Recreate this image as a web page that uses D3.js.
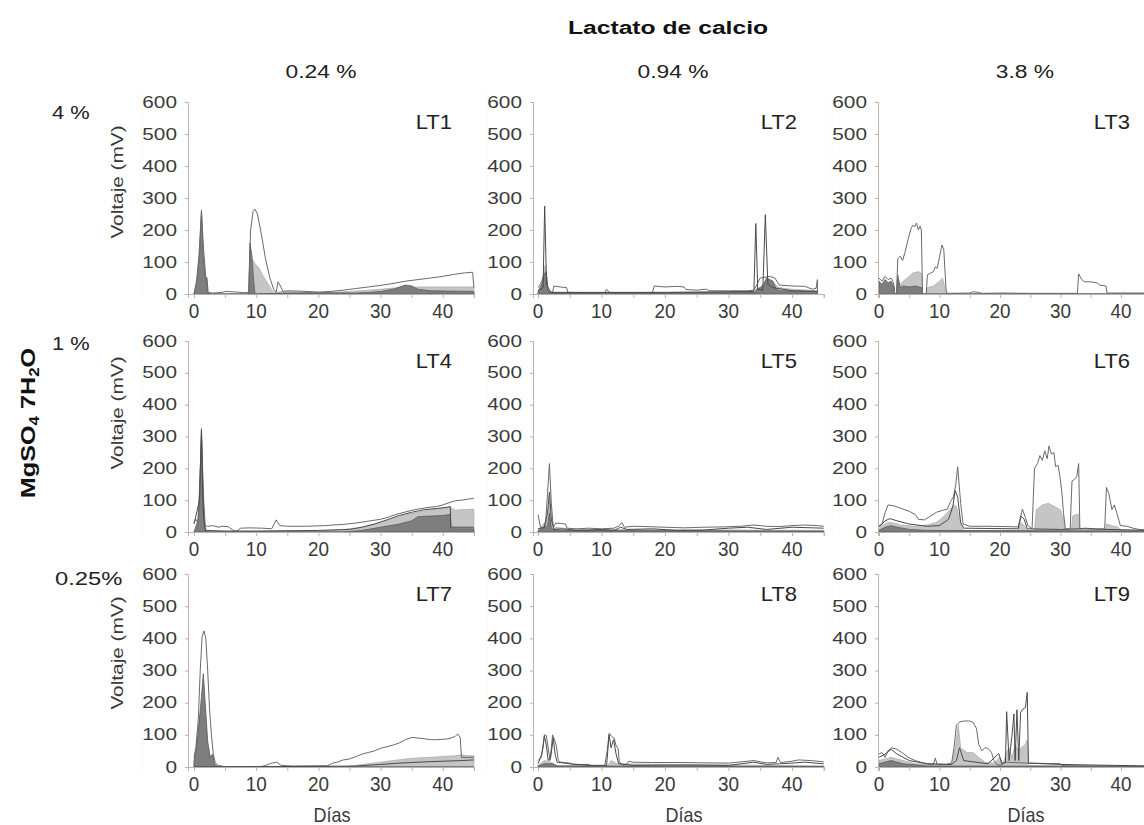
<!DOCTYPE html>
<html>
<head>
<meta charset="utf-8">
<script src="https://cdn.jsdelivr.net/npm/d3@7/dist/d3.min.js"></script>
<style>
  html, body { margin: 0; padding: 0; background: #fff; }
  svg { display: block; }
  text { font-family: "Liberation Sans", Arial, sans-serif; fill: #333; }
</style>
</head>
<body>
<svg id="chart" width="1144" height="825"></svg>
<script>
// ---- Data: voltage (mV) vs. day, one set of traces per cell LT1..LT9 ----
const panelNames = ["LT1", "LT2", "LT3", "LT4", "LT5", "LT6", "LT7", "LT8", "LT9"];
const calciumLevels = ["0.24 %", "0.94 %", "3.8 %"];
const magnesiumLevels = ["4 %", "1 %", "0.25%"];
const yTicks = [0, 100, 200, 300, 400, 500, 600];
const xTicksMajor = [0, 10, 20, 30, 40];
const xTicksMinor = [0, 5, 10, 15, 20, 25, 30, 35, 40, 45];

// LT1
const lt1Outer = [[0,0],[0.4,40],[0.8,120],[1.2,262],[1.5,150],[1.9,50],[2.2,5],[3,3],[4.5,5],[5,8],[7,6],[8,4],[8.8,5],[9.1,200],[9.5,258],[9.8,265],[10.2,250],[10.8,190],[11.5,110],[12.2,50],[12.8,15],[13.2,5],[13.5,38],[13.9,25],[14.3,8],[15,10],[17,9],[20,6],[22,8],[24,12],[26,17],[28,22],[30,27],[32,33],[34,40],[36,45],[38,50],[40,55],[42,62],[43.5,66],[44.8,68],[45,20]];
const lt1Light = [[0,0],[8.8,0],[9.0,150],[9.3,110],[9.8,95],[10.5,80],[11,60],[11.8,35],[12.5,12],[13,3],[14,8],[18,5],[22,5],[25,8],[28,12],[30,15],[33,20],[36,22],[40,22],[43,22],[45,22]];
const lt1Dark = [[0,0],[0.5,40],[0.9,130],[1.2,258],[1.5,120],[1.8,55],[2.1,50],[2.3,0],[8.8,0],[9.0,160],[9.3,120],[9.6,40],[9.8,0],[15,3],[20,4],[26,3],[28,5],[30,8],[32,15],[34,28],[35,25],[36,15],[38,10],[45,8]];
const lt1Line = [];

// LT2
const lt2Outer = [[0,20],[0.3,28],[0.6,40],[0.9,60],[1.3,70],[1.6,8],[2.3,5],[2.5,25],[3.5,22],[4.5,20],[4.7,5],[8,4],[10.5,4],[10.8,15],[11.2,5],[15,3],[18,3],[18.3,25],[20,22],[22,24],[23,22],[23.3,14],[25,12],[26.5,15],[27,10],[30,10],[33,10],[34,12],[35,50],[36.5,55],[37.3,50],[38,28],[40,25],[42,24],[43.2,15],[43.8,18],[44,45],[44,5]];
const lt2Light = [[0,10],[0.8,40],[1.1,90],[1.5,20],[2,5],[34,5],[35,20],[36,30],[37,35],[38,20],[40,15],[44,10]];
const lt2Dark = [[0,5],[0.6,30],[0.9,60],[1.1,65],[1.3,70],[1.5,10],[2,3],[10,3],[20,4],[30,5],[34.2,5],[34.4,15],[35,20],[35.5,30],[36,50],[36.5,45],[37,40],[37.5,15],[38,10],[44,8]];
const lt2Line = [[0,10],[0.8,20],[1.05,275],[1.35,30],[2,5],[20,5],[34,8],[34.3,220],[34.6,15],[35.4,12],[35.8,248],[36.2,30],[37,20],[40,10],[44,8]];

// LT3
const lt3Outer = [[0,50],[0.5,40],[1,55],[1.5,45],[2,50],[2.4,35],[2.6,0],[2.9,0],[3.1,110],[3.5,118],[3.9,105],[4.3,130],[4.8,170],[5.3,205],[5.6,215],[5.9,210],[6.2,222],[6.5,200],[6.8,212],[7.0,200],[7.2,0],[7.8,0],[8.0,60],[8.5,65],[9.0,70],[9.3,85],[9.6,80],[10.0,115],[10.4,153],[10.7,140],[11.1,10],[11.3,2],[15,3],[15.5,7],[16.5,5],[17,2],[20,3],[25,2],[32.8,2],[33.0,63],[33.5,45],[34,38],[35,38],[36,35],[36.5,28],[37.5,25],[37.7,3],[45,3]];
const lt3Light = [[0,30],[2.5,25],[2.6,0],[2.9,0],[3.1,40],[3.5,30],[4,40],[5,55],[5.5,65],[6.5,70],[7,65],[7.2,0],[7.8,0],[8,20],[9,25],[10,40],[10.5,50],[11,10],[11.3,0],[45,0]];
const lt3Dark = [[0,40],[0.5,30],[1,45],[1.5,35],[2,40],[2.5,20],[2.6,0],[2.9,0],[3.1,60],[3.5,20],[4,25],[5,22],[6,25],[7,20],[7.2,0],[45,0]];
const lt3Line = [];

// LT4
const lt4Outer = [[0,30],[0.3,40],[0.6,30],[0.9,120],[1.2,325],[1.5,120],[1.8,20],[2.2,18],[3,20],[4,15],[4.5,18],[5.5,17],[6.3,5],[6.8,2],[7.5,12],[9,13],[11,12],[12.5,10],[13.2,38],[13.8,20],[15,18],[18,18],[21,20],[24,24],[26,28],[28,34],[30,40],[31,45],[32,52],[33,58],[34,63],[35,68],[36,72],[37,75],[38,78],[39,80],[40,85],[41,92],[42,98],[43,100],[44,103],[45,106]];
const lt4Light = [[0,0],[20,3],[24,8],[27,15],[30,30],[32,42],[34,55],[36,62],[38,70],[40,75],[41.2,78],[42,68],[43,70],[45,72]];
const lt4Dark = [[0,0],[0.7,40],[1.2,300],[1.6,30],[2,0],[24,0],[27,5],[30,15],[33,25],[35,35],[36,48],[38,50],[40,52],[41.2,55],[41.3,10],[45,10]];
const lt4Line = [[0,25],[0.9,100],[1.2,320],[1.5,60],[1.8,5],[5,3],[10,3],[20,5],[25,8],[27,15],[29,25],[31,38],[33,52],[35,62],[37,70],[39,74],[40.5,77],[41.2,80],[41.3,15],[43,15],[45,15]];

// LT5
const lt5Outer = [[0,55],[0.4,15],[0.8,10],[1.2,30],[1.5,120],[1.8,215],[2.1,90],[2.4,15],[2.8,28],[3.5,27],[4.3,25],[4.6,12],[6,10],[8,12],[10,10],[12,12],[12.8,20],[13.2,30],[13.6,15],[15,18],[17,17],[20,15],[23,13],[26,15],[29,16],[32,18],[34,22],[36,18],[38,17],[40,20],[42,22],[44,20],[45,18]];
const lt5Light = [[0,5],[1.5,40],[1.8,100],[2.2,10],[3,15],[5,8],[45,5]];
const lt5Dark = [[0,3],[1.5,20],[1.8,60],[2.1,10],[3,5],[45,3]];
const lt5Line = [[0,10],[1,15],[1.5,60],[1.8,125],[2.1,40],[2.5,8],[4,10],[6,5],[8,6],[10,8],[12,5],[13,15],[14,8],[18,10],[22,5],[26,6],[30,12],[33,15],[36,8],[40,15],[45,12]];

// LT6
const lt6Outer = [[0,20],[0.5,25],[1,60],[1.5,85],[2.5,82],[3.5,75],[5,65],[6,55],[6.5,40],[7.5,38],[8.5,50],[9.5,62],[10.5,68],[11.3,72],[11.8,95],[12.3,110],[12.7,150],[13.0,205],[13.2,160],[13.5,90],[13.9,25],[15,18],[18,18],[21,17],[23,16],[23.3,40],[23.7,72],[24.2,45],[24.6,20],[25.3,10],[25.7,200],[26.2,215],[26.6,240],[27,225],[27.4,255],[27.8,230],[28.1,270],[28.5,245],[28.9,250],[29.2,205],[29.6,210],[29.9,175],[30.2,130],[30.5,60],[30.8,10],[31.6,10],[31.9,160],[32.3,165],[32.7,175],[33.0,215],[33.2,10],[34,12],[36,10],[37.3,10],[37.6,140],[38.0,120],[38.5,70],[38.9,85],[39.3,60],[39.9,20],[41,18],[42,12],[43,8],[45,5]];
const lt6Light = [[0,10],[0.5,20],[1.5,30],[2.5,28],[3.5,22],[6,18],[8,22],[9.5,30],[10.5,45],[11.5,65],[12.3,85],[12.8,80],[13.3,40],[13.9,5],[23,5],[23.5,30],[24,20],[24.6,5],[25.7,5],[26,70],[27,85],[28,90],[29,80],[30,70],[30.5,40],[30.8,5],[31.8,5],[32.0,50],[32.5,55],[33,55],[33.2,5],[37.4,5],[37.6,25],[38.5,20],[39.5,15],[40,5],[45,3]];
const lt6Dark = [[0,5],[1,15],[2,20],[3,15],[5,8],[8,5],[45,3]];
const lt6Line = [[0,15],[1,35],[1.8,42],[3,35],[5,25],[8,18],[10,20],[11.5,40],[12.2,80],[12.6,130],[13,110],[13.5,30],[14,12],[23,10],[23.5,50],[24,40],[24.5,10],[30,8],[33,10],[38,8],[45,5]];

// LT7
const lt7Outer = [[0,30],[0.3,60],[0.7,150],[1.0,300],[1.3,405],[1.6,423],[1.9,400],[2.2,300],[2.5,180],[2.8,100],[3.1,40],[3.4,15],[3.8,5],[4.5,3],[5,0],[10.5,0],[11.5,5],[12.5,12],[13.3,15],[14,5],[16,3],[21.5,4],[22.3,12],[23,15],[24,22],[25,25],[26,32],[27,40],[28,45],[29,50],[30,58],[31,63],[32,68],[33,75],[34,85],[35,92],[36,90],[37,88],[38,85],[39,85],[40,86],[41,88],[42,95],[42.4,103],[42.8,92],[43,30],[44,30],[45,30]];
const lt7Light = [[0,10],[0.5,80],[0.9,160],[1.2,180],[1.5,140],[2,90],[2.5,40],[3,20],[3.5,5],[4,0],[24,0],[26,5],[28,10],[30,15],[32,20],[34,25],[36,28],[38,30],[40,33],[42,35],[43,38],[44,35],[45,35]];
const lt7Dark = [[0,20],[0.4,60],[0.8,130],[1.2,220],[1.5,290],[1.8,200],[2.2,80],[2.6,30],[3.0,40],[3.3,10],[3.8,0],[45,0]];
const lt7Line = [[0,0],[20,2],[26,3],[30,8],[33,12],[36,15],[40,18],[43,20],[45,22]];

// LT8
const lt8Outer = [[0,20],[0.5,30],[0.8,60],[1.0,100],[1.3,98],[1.6,60],[1.9,20],[2.1,60],[2.3,100],[2.6,85],[2.9,65],[3.2,20],[3.6,15],[5,12],[5.5,8],[8,8],[8.5,3],[10.5,3],[10.9,50],[11.2,105],[11.6,95],[12.0,90],[12.3,65],[12.6,60],[12.8,15],[13.5,5],[14.0,10],[14.3,18],[15,15],[18,14],[22,14],[26,13],[30,12],[31,14],[33,18],[34,20],[35,16],[36,13],[37.5,14],[37.8,30],[38.2,14],[40,18],[41,22],[43,20],[45,16]];
const lt8Light = [[0,5],[1,20],[2,15],[3,5],[11,5],[11.5,20],[12.5,10],[45,3]];
const lt8Dark = [[0,3],[1,10],[2.3,10],[3,3],[45,2]];
const lt8Line = [[0,10],[0.6,40],[1.0,95],[1.3,70],[1.6,20],[2,30],[2.4,90],[2.7,40],[3,15],[5,10],[8,5],[10.8,5],[11.2,100],[11.5,60],[11.9,85],[12.3,40],[12.7,10],[15,5],[20,6],[25,6],[30,5],[32,10],[34,15],[36,8],[38,10],[40,12],[42,15],[45,10]];

// LT9
const lt9Outer = [[0,40],[0.5,45],[1,30],[1.5,50],[2,60],[3,55],[4,42],[5,28],[6,20],[7,14],[8,10],[9,8],[9.3,28],[9.6,8],[11,8],[12,12],[12.4,60],[12.8,130],[13.3,140],[14,143],[15,143],[15.6,138],[16.1,120],[16.5,70],[17,50],[17.5,60],[18,58],[18.6,45],[19,20],[19.5,8],[20,5],[20.5,10],[21,15],[24.5,12],[25,12],[30,10],[30.2,4],[35,3],[45,2]];
const lt9Light = [[0,20],[2,30],[4,20],[6,10],[12,8],[12.6,60],[13.1,130],[13.5,60],[14.5,45],[15.5,45],[16.5,30],[17.5,15],[19,12],[20,30],[20.5,10],[21,40],[21.5,60],[22,30],[22.5,70],[23,50],[23.5,60],[24.2,70],[24.5,85],[24.7,5],[30,3],[45,2]];
const lt9Dark = [[0,10],[2,20],[4,10],[8,3],[45,2]];
const lt9Line = [[0,30],[1,40],[2,55],[3,40],[5,20],[8,10],[12,8],[12.8,20],[13.3,60],[14,20],[18,10],[19.8,42],[20.3,10],[20.9,15],[21.1,172],[21.5,20],[22.0,100],[22.3,165],[22.5,20],[22.8,178],[23.1,20],[23.4,170],[23.8,180],[24.2,185],[24.5,232],[24.7,12],[30,8],[45,3]];

const outerSeries = [lt1Outer, lt2Outer, lt3Outer, lt4Outer, lt5Outer, lt6Outer, lt7Outer, lt8Outer, lt9Outer];
const lightSeries = [lt1Light, lt2Light, lt3Light, lt4Light, lt5Light, lt6Light, lt7Light, lt8Light, lt9Light];
const darkSeries  = [lt1Dark, lt2Dark, lt3Dark, lt4Dark, lt5Dark, lt6Dark, lt7Dark, lt8Dark, lt9Dark];
const lineSeries  = [lt1Line, lt2Line, lt3Line, lt4Line, lt5Line, lt6Line, lt7Line, lt8Line, lt9Line];

// ---- Layout ----
const cols = [
  { axisX: 188, x0: 194, ppd: 6.22, nameRight: 452, diasX: 332 },
  { axisX: 533, x0: 538, ppd: 6.35, nameRight: 797, diasX: 684 },
  { axisX: 878, x0: 879, ppd: 6.05, nameRight: 1130, diasX: 1026 }
];
const rows = [
  { top: 102, bottom: 294, voltY: 182 },
  { top: 341, bottom: 532, voltY: 413 },
  { top: 574, bottom: 767, voltY: 653 }
];

const svg = d3.select("#chart");
svg.append("rect").attr("width", 1144).attr("height", 825).attr("fill", "#fff");

// text helper: stretch along the reading direction with sx
function label(g, x, y, str, opt) {
  const o = Object.assign({ size: 16, weight: "normal", anchor: "middle", sx: 1, rot: 0, fill: "#333" }, opt || {});
  return g.append("text")
    .attr("transform", `translate(${x},${y}) rotate(${o.rot}) scale(${o.sx},1)`)
    .attr("text-anchor", o.anchor)
    .attr("font-size", o.size)
    .attr("font-weight", o.weight)
    .style("fill", o.fill)
    .text(str);
}

const axisColor = "#b4b4b4";

panelNames.forEach((name, i) => {
  const r = Math.floor(i / 3), c = i % 3;
  const col = cols[c], row = rows[r];
  const xMin = -(col.x0 - col.axisX) / col.ppd;
  const x = d3.scaleLinear().domain([xMin, 45]).range([col.axisX, col.x0 + 45 * col.ppd]);
  const y = d3.scaleLinear().domain([0, 600]).range([row.bottom, row.top]);
  const g = svg.append("g");

  // faint border of the label area
  g.append("line")
    .attr("x1", col.axisX - 46).attr("x2", col.axisX - 46)
    .attr("y1", row.top - 8).attr("y2", row.bottom + 4)
    .attr("stroke", "#ececec").attr("stroke-dasharray", "1,2");

  const area = d3.area().x(d => x(d[0])).y0(y(0)).y1(d => y(d[1]));
  const line = d3.line().x(d => x(d[0])).y(d => y(d[1]));

  g.append("path").datum(lightSeries[i]).attr("d", area)
    .attr("fill", "#c5c5c5").attr("stroke", "#b0b0b0").attr("stroke-width", 0.8);
  g.append("path").datum(darkSeries[i]).attr("d", area)
    .attr("fill", "#7e7e7e").attr("stroke", "#5a5a5a").attr("stroke-width", 0.8);
  g.append("path").datum(outerSeries[i]).attr("d", line)
    .attr("fill", "none").attr("stroke", "#6a6a6a").attr("stroke-width", 1);
  if (lineSeries[i].length) {
    g.append("path").datum(lineSeries[i]).attr("d", line)
      .attr("fill", "none").attr("stroke", "#4a4a4a").attr("stroke-width", 1);
  }

  // y axis
  const ya = g.append("g").attr("transform", `translate(${col.axisX},0)`)
    .call(d3.axisLeft(y).tickValues(yTicks).tickSize(3).tickFormat(""));
  ya.select(".domain").attr("stroke", axisColor);
  ya.selectAll(".tick line").attr("stroke", axisColor);
  yTicks.forEach(v => label(g, col.axisX - 11, y(v) + 5.5, String(v), { size: 16, anchor: "end", sx: 1.3, fill: "#3a3a3a" }));

  // x axis
  const xa = g.append("g").attr("transform", `translate(0,${row.bottom})`)
    .call(d3.axisBottom(x).tickValues(xTicksMinor).tickSize(4).tickFormat(""));
  xa.select(".domain").attr("stroke", axisColor);
  xa.selectAll(".tick line").attr("stroke", axisColor);
  xTicksMajor.forEach(v => label(g, x(v), row.bottom + 24, String(v), { size: 21, sx: 0.9, fill: "#3a3a3a" }));

  // panel name
  label(g, col.nameRight, row.top + 27, name, { size: 20, anchor: "end", sx: 1.1, fill: "#222" });

  if (c === 0) {
    label(g, 123, row.voltY, "Voltaje (mV)", { size: 16, rot: -90, sx: 1.3, fill: "#3a3a3a" });
  }
  if (r === 2) {
    label(g, col.diasX, 822, "Días", { size: 20, sx: 0.9, fill: "#3a3a3a" });
  }
});

// headings
label(svg, 668, 34, "Lactato de calcio", { size: 19, weight: "bold", sx: 1.3, fill: "#111" });
const headX = [321, 673, 1025];
calciumLevels.forEach((t, k) => label(svg, headX[k], 78, t, { size: 19, sx: 1.2, fill: "#222" }));
const rowLabelY = [119, 350, 585];
const rowLabelX = [52, 52, 55];
const rowLabelSx = [1.15, 1.15, 1.25];
magnesiumLevels.forEach((t, k) => label(svg, rowLabelX[k], rowLabelY[k], t, { size: 19, anchor: "start", sx: rowLabelSx[k], fill: "#222" }));

// vertical factor title with subscripts
const mg = svg.append("text")
  .attr("transform", "translate(35,423) rotate(-90) scale(1.2,1)")
  .attr("text-anchor", "middle")
  .attr("font-size", 21).attr("font-weight", "bold")
  .style("fill", "#111");
mg.append("tspan").text("MgSO");
mg.append("tspan").attr("font-size", 14).attr("dy", 4).text("4");
mg.append("tspan").attr("dy", -4).text(" 7H");
mg.append("tspan").attr("font-size", 14).attr("dy", 4).text("2");
mg.append("tspan").attr("dy", -4).text("O");
</script>
</body>
</html>
